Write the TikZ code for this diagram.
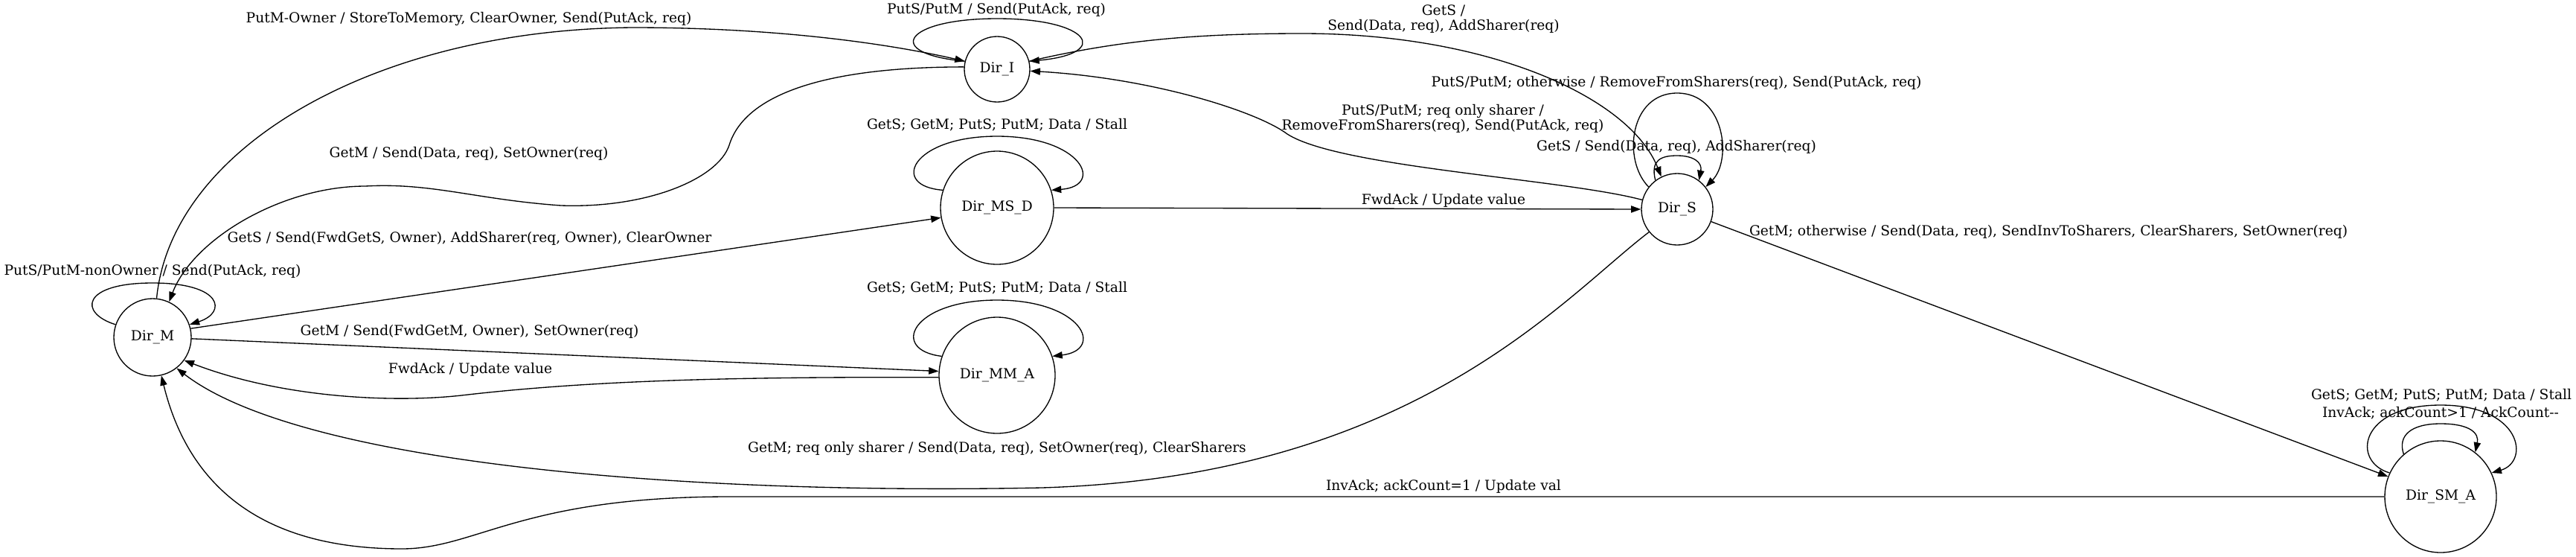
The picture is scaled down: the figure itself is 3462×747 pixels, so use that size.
\documentclass[tikz,border=0pt]{standalone}
\usepackage{fontspec}
\setmainfont{DejaVu Serif}
\usetikzlibrary{arrows.meta}
\begin{document}
\begin{tikzpicture}[x=0.75pt,y=-0.75pt,font=\fontsize{14}{15}\selectfont]
\tikzset{
  state/.style={draw, circle, line width=1pt, inner sep=0pt},
  lbl/.style={inner sep=0pt, text height=0.73em, text depth=0.24em},
  lbltwo/.style={inner sep=0pt, align=center},
  tr/.style={line width=1pt, -{Triangle[length=10pt,width=7pt]}}
}
\useasboundingbox (0,0) rectangle (3462,747);
% states
\node[state, minimum size=66pt]    (I)   at (1340,93)  {Dir\_I};
\node[state, minimum size=114pt]   (MSD) at (1340,279) {Dir\_MS\_D};
\node[state, minimum size=72pt]    (S)   at (2254,281) {Dir\_S};
\node[state, minimum size=78pt]    (M)   at (205,453)  {Dir\_M};
\node[state, minimum size=117pt]   (MMA) at (1340,504) {Dir\_MM\_A};
\node[state, minimum size=112.5pt] (SMA) at (3280,667) {Dir\_SM\_A};
% edges
\draw[tr] (M.84) .. controls (230,200) and (500,40) .. (850,37) .. controls (1050,37) and (1200,60) .. (I.166);
\draw[tr] (I.176) .. controls (1100,90) and (1000,130) .. (980,195) .. controls (965,240) and (870,280) .. (754,276) .. controls (640,268) and (580,245) .. (491,250) .. controls (380,250) and (260,320) .. (M.65);
\draw[tr] (M.13) -- (MSD.190);
\draw[tr] (M.161) .. controls (105,420) and (110,380) .. (205,380) .. controls (300,380) and (305,420) .. (M.19);
\draw[tr] (M.-2) -- (MMA.176);
\draw[tr] (MMA.182) .. controls (1000,506) and (800,510) .. (620,531) .. controls (530,541) and (380,535) .. (M.-36);
\draw[tr] (MSD.162) .. controls (1195,250) and (1225,183) .. (1340,183) .. controls (1455,183) and (1485,250) .. (MSD.18);
\draw[tr] (MSD.east) -- (S.west);
\draw[tr] (MMA.161) .. controls (1195,470) and (1225,403) .. (1340,403) .. controls (1455,403) and (1485,470) .. (MMA.19);
\draw[tr] (I.166) .. controls (1185,72) and (1215,25) .. (1340,25) .. controls (1465,25) and (1495,72) .. (I.14);
\draw[tr] (I.14) .. controls (1500,55) and (1600,45) .. (1750,45) .. controls (2000,45) and (2190,130) .. (S.116);
\draw[tr] (S.165) .. controls (2100,240) and (1800,225) .. (1730,180) .. controls (1690,150) and (1550,105) .. (I.-3);
\draw[tr] (S.142) .. controls (2180,215) and (2190,125) .. (2254,125) .. controls (2318,125) and (2328,215) .. (S.38);
\draw[tr] (S.127) .. controls (2218,215) and (2232,209) .. (2254,209) .. controls (2276,209) and (2288,218) .. (S.53);
\draw[tr] (S.-20) -- (SMA.159);
\draw[tr] (S.-141) .. controls (2100,400) and (1900,640) .. (1400,655) .. controls (900,665) and (400,620) .. (M.-52);
\draw[tr] (SMA.180) -- (980,667) .. controls (700,667) and (640,737) .. (540,737) .. controls (360,737) and (255,660) .. (M.-77);
\draw[tr] (SMA.155) .. controls (3160,620) and (3170,544) .. (3280,544) .. controls (3390,544) and (3400,620) .. (SMA.25);
\draw[tr] (SMA.131) .. controls (3222,585) and (3240,569) .. (3280,569) .. controls (3320,569) and (3332,582) .. (SMA.52);
% labels
\node[lbl] (l1) at (630,27) {PutM-Owner / StoreToMemory, ClearOwner, Send(PutAck, req)};
\node[lbl] (l2) at (630,208) {GetM / Send(Data, req), SetOwner(req)};
\node[lbl] (l3) at (631,322) {GetS / Send(FwdGetS, Owner), AddSharer(req, Owner), ClearOwner};
\node[lbl] (l4) at (205,366) {PutS/PutM-nonOwner / Send(PutAck, req)};
\node[lbl] (l5) at (1339,15) {PutS/PutM / Send(PutAck, req)};
\node[lbltwo] (l6) at (1940,26) {GetS /\\Send(Data, req), AddSharer(req)};
\node[lbl] (l7) at (2253,113) {PutS/PutM; otherwise / RemoveFromSharers(req), Send(PutAck, req)};
\node[lbltwo] (l8) at (1939,159) {PutS/PutM; req only sharer /\\RemoveFromSharers(req), Send(PutAck, req)};
\node[lbl] (l9) at (2253,199) {GetS / Send(Data, req), AddSharer(req)};
\node[lbl] (l10) at (1340,170) {GetS; GetM; PutS; PutM; Data / Stall};
\node[lbl] (l11) at (1940,271) {FwdAck / Update value};
\node[lbl] (l12) at (2753,313) {GetM; otherwise / Send(Data, req), SendInvToSharers, ClearSharers, SetOwner(req)};
\node[lbl] (l13) at (631,447) {GetM / Send(FwdGetM, Owner), SetOwner(req)};
\node[lbl] (l14) at (632,498) {FwdAck / Update value};
\node[lbl] (l15) at (1340,389) {GetS; GetM; PutS; PutM; Data / Stall};
\node[lbl] (l16) at (1340,604) {GetM; req only sharer / Send(Data, req), SetOwner(req), ClearSharers};
\node[lbl] (l17) at (1940,655) {InvAck; ackCount=1 / Update val};
\node[lbl] (l18) at (3281,533) {GetS; GetM; PutS; PutM; Data / Stall};
\node[lbl] (l19) at (3280,557) {InvAck; ackCount>1 / AckCount-{}-};
\end{tikzpicture}
\end{document}
